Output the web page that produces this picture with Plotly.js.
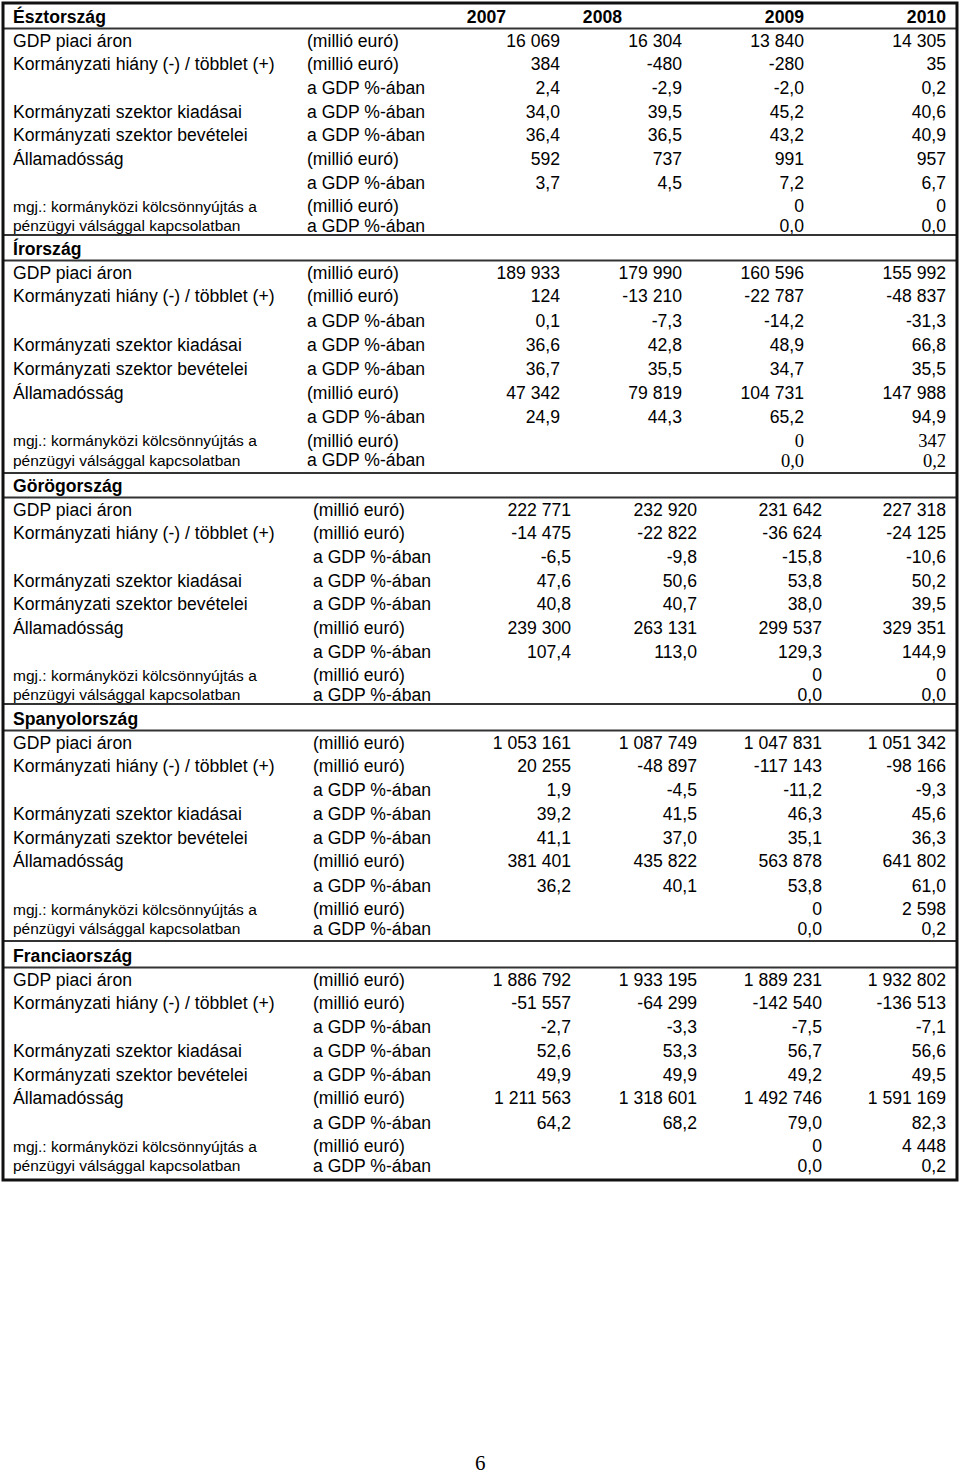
<!DOCTYPE html>
<html><head><meta charset="utf-8">
<script src="https://cdn.plot.ly/plotly-3.0.1.min.js"></script>
<style>html,body{margin:0;padding:0;background:#fff}</style>
</head><body><div id="chart" style="width:960px;height:1476px"></div>
<script>
// ---------------- DATA ----------------
const countries = ['Észtország', 'Írország', 'Görögország', 'Spanyolország', 'Franciaország'];
const years = ['2007', '2008', '2009', '2010'];
const rowLabels = ['GDP piaci áron', 'Kormányzati hiány (-) / többlet (+)', '', 'Kormányzati szektor kiadásai',
  'Kormányzati szektor bevételei', 'Államadósság', '', 'mgj.: kormányközi kölcsönnyújtás a', 'pénzügyi válsággal kapcsolatban'];
const rowUnits = ['(millió euró)', '(millió euró)', 'a GDP %-ában', 'a GDP %-ában', 'a GDP %-ában',
  '(millió euró)', 'a GDP %-ában', '(millió euró)', 'a GDP %-ában'];

const estonia = [
  [16069, 16304, 13840, 14305],
  [384, -480, -280, 35],
  [2.4, -2.9, -2.0, 0.2],
  [34.0, 39.5, 45.2, 40.6],
  [36.4, 36.5, 43.2, 40.9],
  [592, 737, 991, 957],
  [3.7, 4.5, 7.2, 6.7],
  [null, null, 0, 0],
  [null, null, 0.0, 0.0]
];
const ireland = [
  [189933, 179990, 160596, 155992],
  [124, -13210, -22787, -48837],
  [0.1, -7.3, -14.2, -31.3],
  [36.6, 42.8, 48.9, 66.8],
  [36.7, 35.5, 34.7, 35.5],
  [47342, 79819, 104731, 147988],
  [24.9, 44.3, 65.2, 94.9],
  [null, null, 0, 347],
  [null, null, 0.0, 0.2]
];
const greece = [
  [222771, 232920, 231642, 227318],
  [-14475, -22822, -36624, -24125],
  [-6.5, -9.8, -15.8, -10.6],
  [47.6, 50.6, 53.8, 50.2],
  [40.8, 40.7, 38.0, 39.5],
  [239300, 263131, 299537, 329351],
  [107.4, 113.0, 129.3, 144.9],
  [null, null, 0, 0],
  [null, null, 0.0, 0.0]
];
const spain = [
  [1053161, 1087749, 1047831, 1051342],
  [20255, -48897, -117143, -98166],
  [1.9, -4.5, -11.2, -9.3],
  [39.2, 41.5, 46.3, 45.6],
  [41.1, 37.0, 35.1, 36.3],
  [381401, 435822, 563878, 641802],
  [36.2, 40.1, 53.8, 61.0],
  [null, null, 0, 2598],
  [null, null, 0.0, 0.2]
];
const france = [
  [1886792, 1933195, 1889231, 1932802],
  [-51557, -64299, -142540, -136513],
  [-2.7, -3.3, -7.5, -7.1],
  [52.6, 53.3, 56.7, 56.6],
  [49.9, 49.9, 49.2, 49.5],
  [1211563, 1318601, 1492746, 1591169],
  [64.2, 68.2, 79.0, 82.3],
  [null, null, 0, 4448],
  [null, null, 0.0, 0.2]
];
const countryValues = [estonia, ireland, greece, spain, france];
const pageNumber = '6';

// ---------------- LAYOUT GEOMETRY ----------------
const SANS = 'Liberation Sans, Arial, sans-serif';
const SERIF = 'Liberation Serif, Times New Roman, serif';
const FS = 17.6, FS_SMALL = 15.5;
const TEXT_DY = 2.5; // vertical nudge so glyphs sit where the source rows do
const sectionTop = [16, 248, 485, 718, 955];
const sectionStretch = [1, 1.012, 1, 1.004, 1.004];
const rowOff = [24, 47, 71, 95, 118.5, 142, 166, 189.5, 209];
const headerLineOff = 12.5;
const sectionBottom = [235, 473, 704, 941];
const unitX = [307, 307, 313, 313, 313];
const colRight = [
  [560, 682, 804, 946], [560, 682, 804, 946],
  [571, 697, 822, 946], [571, 697, 822, 946], [571, 697, 822, 946]
];
const yearRight = [506, 622, 804, 946];
const labelX = 13;
const serifRows = {1: [7, 8]}; // Ireland's note rows are typeset in a serif face

function rowY(s, r) { return sectionTop[s] + rowOff[r] * sectionStretch[s] + TEXT_DY; }

function fmt(v, unit) {
  if (v === null || v === undefined) return '';
  if (unit.indexOf('millió') !== -1) {
    const s = Math.abs(Math.round(v)).toString().replace(/\B(?=(\d{3})+(?!\d))/g, ' ');
    return (v < 0 ? '-' : '') + s;
  }
  return v.toFixed(1).replace('.', ',');
}

const traces = [];
function textTrace(x, y, text, pos, font) {
  traces.push({type: 'scatter', mode: 'text', x: x, y: y, text: text, textposition: pos,
    textfont: font, hoverinfo: 'skip', showlegend: false, cliponaxis: false});
}

// Country headers
textTrace(countries.map(() => labelX), sectionTop.map(h => h + TEXT_DY), countries, 'middle right',
  {family: SANS, size: FS, color: '#000', weight: 'bold'});
// Year headers
textTrace(yearRight, years.map(() => sectionTop[0] + TEXT_DY), years, 'middle left',
  {family: SANS, size: FS, color: '#000', weight: 'bold'});

// Row labels and units
{
  const lx = [], ly = [], lt = [], ls = [];
  const ux = [], uy = [], ut = [];
  countries.forEach((c, s) => {
    rowLabels.forEach((lab, r) => {
      const y = rowY(s, r);
      if (lab) { lx.push(labelX); ly.push(y); lt.push(lab); ls.push(r >= 7 ? FS_SMALL : FS); }
      ux.push(unitX[s]); uy.push(y); ut.push(rowUnits[r]);
    });
  });
  textTrace(lx, ly, lt, 'middle right', {family: SANS, size: ls, color: '#000'});
  textTrace(ux, uy, ut, 'middle right', {family: SANS, size: FS, color: '#000'});
}

// Value columns
years.forEach((yr, c) => {
  const x = [], y = [], t = [], fam = [], sz = [];
  countryValues.forEach((vals, s) => {
    vals.forEach((row, r) => {
      const txt = fmt(row[c], rowUnits[r]);
      if (!txt) return;
      const serif = serifRows[s] && serifRows[s].indexOf(r) !== -1;
      x.push(colRight[s][c]); y.push(rowY(s, r)); t.push(txt);
      fam.push(serif ? SERIF : SANS); sz.push(serif ? 18.5 : FS);
    });
  });
  textTrace(x, y, t, 'middle left', {family: fam, size: sz, color: '#000'});
});

// Rules
const shapes = [];
const L = 3, R = 957;
sectionTop.forEach(h => shapes.push({type: 'line', xref: 'x', yref: 'y', x0: L, x1: R,
  y0: h + headerLineOff, y1: h + headerLineOff, line: {color: '#333', width: 2}}));
sectionBottom.forEach(b => shapes.push({type: 'line', xref: 'x', yref: 'y', x0: L, x1: R,
  y0: b, y1: b, line: {color: '#333', width: 2}}));
shapes.push({type: 'rect', xref: 'x', yref: 'y', x0: L, x1: R, y0: 3, y1: 1180,
  line: {color: '#111', width: 3}, fillcolor: 'rgba(0,0,0,0)'});

const layout = {
  width: 960, height: 1476,
  margin: {l: 0, r: 0, t: 0, b: 0, pad: 0},
  paper_bgcolor: '#fff', plot_bgcolor: '#fff',
  xaxis: {range: [0, 960], visible: false, fixedrange: true},
  yaxis: {range: [1476, 0], visible: false, fixedrange: true},
  shapes: shapes,
  annotations: [{xref: 'x', yref: 'y', x: 480, y: 1476, yanchor: 'bottom', borderpad: 0,
    text: pageNumber, showarrow: false, font: {family: SERIF, size: 21, color: '#000'}}],
  showlegend: false
};
Plotly.newPlot('chart', traces, layout, {staticPlot: true, displayModeBar: false});
</script></body></html>
